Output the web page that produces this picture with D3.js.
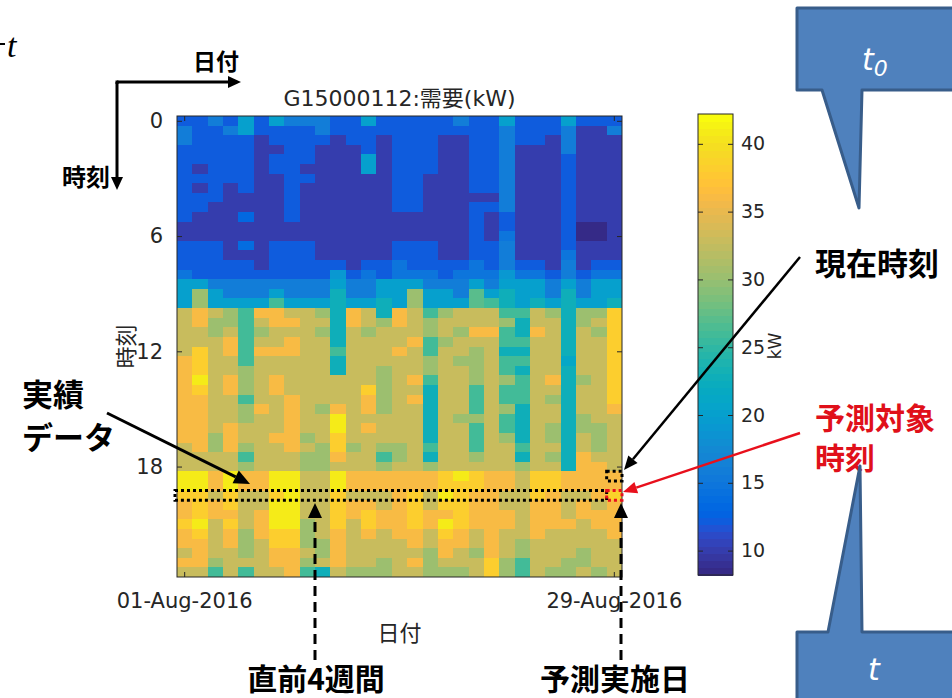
<!DOCTYPE html>
<html>
<head>
<meta charset="utf-8">
<script src="https://cdn.jsdelivr.net/npm/d3@7"></script>
<style>
  body { margin: 0; background: #fff; }
  svg { display: block; }
</style>
</head>
<body>
<svg id="chart" width="952" height="698"></svg>
<script>
// days on x, half-hour slots on y
const days = d3.range(1, 30).map(d => new Date(2016, 7, d));
const slots = d3.range(48).map(i => i / 2);
const hourTicks = [0, 6, 12, 18];
const dateTicks = [days[0], days[28]];
const barTicks = [10, 15, 20, 25, 30, 35, 40];
const colorRange = [8.2, 42.2];
const nowSlot = 18.5;
const targetSlot = 19.5;

// demand (kW) per half-hour slot, one row per slot, 29 days each
const demand = [
  [12,12,16,12,20,12,20,16,16,16,12,12,20,12,12,12,12,12,16,12,12,20,12,12,12,20,12,12,12],
  [16,12,12,16,20,12,12,12,12,16,12,12,12,12,12,12,12,12,12,12,12,16,12,12,12,16,10,10,16],
  [16,12,12,12,12,10,12,12,12,12,10,12,12,10,12,12,12,10,10,12,12,16,12,12,10,16,10,10,10],
  [12,12,12,12,12,10,10,12,12,10,10,10,12,10,12,12,12,10,10,12,12,16,10,10,10,16,10,10,10],
  [12,12,12,12,12,10,12,12,12,10,10,10,20,10,12,12,12,10,10,12,12,16,10,10,10,12,10,10,10],
  [12,10,12,12,12,10,12,12,10,10,10,10,20,10,12,12,12,10,10,12,12,16,10,10,10,12,10,10,10],
  [12,12,12,12,12,10,10,12,12,10,10,10,10,10,12,12,10,10,10,12,12,16,10,10,10,12,10,10,10],
  [12,10,12,10,12,10,10,12,10,10,10,10,10,10,12,12,10,10,10,12,12,16,10,10,10,12,10,10,10],
  [12,12,12,10,10,10,10,12,10,10,10,10,10,10,12,12,10,10,10,10,10,16,10,10,10,12,10,10,10],
  [12,12,10,10,10,10,10,12,10,10,10,10,10,10,12,12,10,10,10,12,12,16,10,10,10,12,10,10,10],
  [12,10,10,10,13,10,10,12,10,10,10,10,10,10,10,10,10,10,10,12,10,12,10,10,10,12,10,10,10],
  [10,10,10,10,10,10,10,10,10,10,10,10,10,10,10,10,10,10,10,12,10,12,10,10,10,12,8,8,10],
  [10,10,10,10,10,10,10,10,10,10,10,10,10,10,10,10,10,10,10,12,10,15,10,10,10,12,8,8,10],
  [12,12,12,10,14,10,12,12,12,10,10,10,10,10,12,12,12,10,10,12,12,16,10,10,10,12,10,10,10],
  [12,12,12,10,10,10,12,12,12,10,10,10,10,10,12,12,12,10,10,12,12,16,10,10,10,15,10,10,10],
  [12,12,12,12,12,10,12,12,12,12,12,10,12,12,15,12,12,12,12,15,12,16,12,12,10,16,10,12,12],
  [15,12,12,12,12,12,12,12,12,12,19,12,15,12,15,15,15,12,15,15,15,19,15,15,12,16,12,15,15],
  [20,20,16,16,16,16,16,16,16,16,20,16,16,20,20,20,16,16,16,20,16,20,20,20,16,20,16,20,20],
  [20,30,20,16,16,16,20,16,16,16,23,16,16,20,20,30,20,20,16,27,20,23,20,20,16,23,16,20,20],
  [20,30,20,20,20,20,26,20,20,20,23,20,20,23,20,30,20,20,20,27,26,23,20,23,20,23,20,20,23],
  [33,36,33,30,26,36,36,33,33,30,23,36,33,23,36,33,26,30,33,33,33,26,26,33,30,23,30,30,38],
  [33,36,30,30,26,33,36,36,33,33,23,36,33,30,36,33,30,33,33,33,33,30,23,33,33,23,30,33,38],
  [33,33,30,33,26,30,33,33,33,30,23,33,30,33,33,33,30,33,30,36,36,26,23,36,33,23,33,30,38],
  [33,33,33,36,26,33,33,36,33,33,23,33,33,33,33,36,26,30,33,33,33,26,26,33,33,23,33,33,38],
  [33,38,33,36,26,36,36,36,33,33,26,33,33,33,36,33,26,33,33,30,33,23,23,33,33,23,33,33,38],
  [36,38,33,33,26,33,33,33,33,33,23,33,33,33,33,33,30,33,30,30,33,26,26,33,33,21,33,33,38],
  [36,38,33,33,30,33,33,33,33,33,23,33,33,30,33,33,30,33,33,30,33,26,23,33,33,23,33,33,38],
  [36,41,33,36,30,33,36,33,33,33,33,33,33,30,33,36,26,33,33,30,33,30,26,33,36,23,30,33,38],
  [36,38,33,36,30,33,36,33,33,33,33,33,38,30,33,33,23,33,33,26,33,26,26,33,33,23,33,33,38],
  [36,36,33,33,26,33,33,36,33,33,33,33,36,30,33,36,23,33,33,26,33,26,26,33,30,23,33,33,38],
  [36,36,33,33,30,36,33,36,33,30,36,33,36,30,33,33,23,33,33,26,33,30,23,33,33,23,33,33,36],
  [36,36,33,33,30,33,33,36,33,33,41,33,33,33,33,33,23,33,30,30,33,26,23,33,33,23,30,33,33],
  [36,36,33,36,33,33,33,36,33,33,41,33,36,33,33,33,23,33,33,26,33,26,23,33,30,23,30,30,33],
  [36,36,30,36,33,33,36,36,30,33,38,33,33,33,33,33,23,33,33,26,33,30,23,33,30,23,33,30,33],
  [33,36,30,36,30,33,33,36,33,30,38,30,33,30,30,33,26,33,33,26,33,33,26,33,33,23,33,30,33],
  [33,33,33,33,26,33,33,33,30,30,36,33,33,26,30,33,23,33,33,30,33,33,23,33,30,23,36,33,33],
  [33,33,33,33,30,33,33,33,30,30,33,33,33,30,33,33,30,33,33,33,33,33,30,33,33,23,36,36,33],
  [41,41,36,41,36,36,41,41,33,33,41,36,36,36,36,36,36,38,41,38,36,36,33,38,38,36,36,36,36],
  [41,41,36,41,36,36,41,41,33,33,41,36,36,36,36,36,36,38,38,38,36,36,33,38,38,36,36,36,36],
  [38,38,33,38,33,33,38,41,33,33,38,33,33,33,36,38,33,41,38,36,36,33,33,38,36,33,33,36,39],
  [36,38,36,38,33,33,41,41,33,33,38,36,36,33,36,38,33,38,38,36,36,33,33,36,36,33,36,33,36],
  [36,38,36,36,33,36,41,41,33,33,38,36,38,36,36,38,36,36,38,36,36,36,33,36,36,33,36,36,36],
  [38,41,33,38,33,36,41,41,30,33,38,33,38,36,36,38,36,41,38,36,36,36,33,36,36,36,33,36,36],
  [36,38,33,36,30,36,38,38,30,33,36,33,36,33,36,36,33,38,36,33,36,33,33,36,33,33,33,33,36],
  [36,36,33,36,30,33,38,38,30,30,36,33,33,33,33,36,33,36,36,33,36,33,30,33,33,33,33,33,33],
  [33,36,33,33,30,33,36,36,33,30,36,33,33,33,33,33,30,36,33,30,36,33,30,33,33,33,30,33,33],
  [36,36,30,33,33,33,36,36,30,33,36,33,33,30,33,36,30,33,33,33,38,30,26,33,33,30,30,33,33],
  [33,33,26,33,26,33,33,36,26,23,33,30,30,30,33,33,30,30,30,33,38,30,26,33,30,30,33,30,33]
];

// MATLAB parula, 64 steps
const parula = ["#352a87","#363093","#3637a0","#353dad","#3243ba","#2c4ac7","#2053d4","#0f5cdd",
  "#0363e1","#0268e1","#046de0","#0871de","#0d75dc","#1079da","#127dd8","#1481d6",
  "#1485d4","#1389d3","#108ed2","#0c93d2","#0998d1","#079ccf","#06a0cd","#06a4ca",
  "#06a7c6","#07a9c2","#0aacbe","#0faeb9","#15b1b4","#1db3af","#25b5a9","#2eb7a4",
  "#38b99e","#42bb98","#4dbc92","#59bd8c","#65be86","#71bf80","#7cbf7b","#87bf77",
  "#92bf73","#9cbf6f","#a5be6b","#aebe67","#b7bd64","#c0bc60","#c8bc5d","#d1bb59",
  "#d9ba56","#e1b952","#e9b94e","#f1b94a","#f8bb44","#fdbe3d","#ffc337","#fec832",
  "#fcce2e","#fad32a","#f7d826","#f5de21","#f5e41d","#f5eb18","#f6f313","#f9fb0e"];

const svg = d3.select("#chart");
svg.append("rect").attr("width", 952).attr("height", 698).attr("fill", "#fff");

const plot = { left: 177, right: 622, top: 116, bottom: 577 };
const axisColor = "#262626";
const tickFont = "'DejaVu Sans', 'Noto Sans CJK JP', sans-serif";
const jpFont = "'Noto Sans CJK JP', sans-serif";

const x = d3.scaleBand().domain(days).range([plot.left, plot.right]);
const y = d3.scaleBand().domain(slots).range([plot.top, plot.bottom]);
const yHour = d3.scaleLinear().domain([-0.25, 23.75]).range([plot.top, plot.bottom]);
const color = d3.scaleQuantize().domain(colorRange).range(parula);

// heatmap cells
const cells = demand.flatMap((row, i) => row.map((v, j) => ({ day: days[j], slot: slots[i], v })));
svg.append("g")
  .attr("shape-rendering", "crispEdges")
  .selectAll("rect")
  .data(cells)
  .join("rect")
  .attr("x", d => x(d.day))
  .attr("y", d => y(d.slot))
  .attr("width", x.bandwidth())
  .attr("height", y.bandwidth())
  .attr("fill", d => color(d.v));

function styleAxis(g, size) {
  g.select(".domain").remove();
  g.selectAll(".tick line").attr("stroke", axisColor);
  g.selectAll(".tick text")
    .attr("fill", axisColor)
    .style("font-family", tickFont)
    .style("font-size", size + "px");
}

// MATLAB-like axes: ticks pointing inward on all four sides
svg.append("g")
  .attr("transform", `translate(${plot.left},0)`)
  .call(d3.axisLeft(yHour).tickValues(hourTicks).tickFormat(d3.format("d")).tickSize(-5).tickPadding(14))
  .call(g => styleAxis(g, 21));
svg.append("g")
  .attr("transform", `translate(${plot.right},0)`)
  .call(d3.axisRight(yHour).tickValues(hourTicks).tickFormat("").tickSize(-5))
  .call(g => styleAxis(g, 21));
svg.append("g")
  .attr("transform", `translate(0,${plot.bottom})`)
  .call(d3.axisBottom(x).tickValues(dateTicks).tickFormat(d3.timeFormat("%d-%b-%Y")).tickSize(-5).tickPadding(16))
  .call(g => styleAxis(g, 21));
svg.append("g")
  .attr("transform", `translate(0,${plot.top})`)
  .call(d3.axisTop(x).tickValues(dateTicks).tickFormat("").tickSize(-5))
  .call(g => styleAxis(g, 21));

svg.append("rect")
  .attr("x", plot.left).attr("y", plot.top)
  .attr("width", plot.right - plot.left).attr("height", plot.bottom - plot.top)
  .attr("fill", "none").attr("stroke", axisColor).attr("stroke-width", 1);

svg.append("text")
  .attr("x", (plot.left + plot.right) / 2).attr("y", 106)
  .attr("text-anchor", "middle").attr("fill", axisColor)
  .style("font-family", tickFont).style("font-size", "22px")
  .text("G15000112:需要(kW)");

svg.append("text")
  .attr("x", (plot.left + plot.right) / 2).attr("y", 641)
  .attr("text-anchor", "middle").attr("fill", axisColor)
  .style("font-family", tickFont).style("font-size", "22px")
  .text("日付");

svg.append("text")
  .attr("transform", `translate(134,${(plot.top + plot.bottom) / 2}) rotate(-90)`)
  .attr("text-anchor", "middle").attr("fill", axisColor)
  .style("font-family", tickFont).style("font-size", "22px")
  .text("時刻");

// colorbar
const bar = { left: 698, right: 733, top: 114, bottom: 575 };
const cbY = d3.scaleLinear().domain(colorRange).range([bar.bottom, bar.top]);
const step = (colorRange[1] - colorRange[0]) / parula.length;
svg.append("g")
  .attr("shape-rendering", "crispEdges")
  .selectAll("rect")
  .data(parula)
  .join("rect")
  .attr("x", bar.left)
  .attr("width", bar.right - bar.left)
  .attr("y", (c, i) => cbY(colorRange[0] + (i + 1) * step))
  .attr("height", (c, i) => cbY(colorRange[0] + i * step) - cbY(colorRange[0] + (i + 1) * step) + 0.5)
  .attr("fill", c => c);

svg.append("g")
  .attr("transform", `translate(${bar.right},0)`)
  .call(d3.axisRight(cbY).tickValues(barTicks).tickSize(-5).tickPadding(8))
  .call(g => styleAxis(g, 19));
svg.append("g")
  .attr("transform", `translate(${bar.left},0)`)
  .call(d3.axisLeft(cbY).tickValues(barTicks).tickFormat("").tickSize(-5))
  .call(g => styleAxis(g, 19));
svg.append("rect")
  .attr("x", bar.left).attr("y", bar.top)
  .attr("width", bar.right - bar.left).attr("height", bar.bottom - bar.top)
  .attr("fill", "none").attr("stroke", axisColor).attr("stroke-width", 1);

svg.append("text")
  .attr("transform", "translate(781,346) rotate(-90)")
  .attr("text-anchor", "middle").attr("fill", axisColor)
  .style("font-family", tickFont).style("font-size", "17px")
  .text("kW");

// ---- annotations ----
function drawArrow(g, from, to, o) {
  const [x1, y1] = from, [x2, y2] = to;
  const a = Math.atan2(y2 - y1, x2 - x1);
  const len = o.head || 14, half = o.half || 6;
  const bx = x2 - len * Math.cos(a), by = y2 - len * Math.sin(a);
  g.append("line")
    .attr("x1", x1).attr("y1", y1).attr("x2", bx).attr("y2", by)
    .attr("stroke", o.color).attr("stroke-width", o.width)
    .attr("stroke-dasharray", o.dash || null);
  const px = -Math.sin(a) * half, py = Math.cos(a) * half;
  g.append("path")
    .attr("d", `M${x2},${y2}L${bx + px},${by + py}L${bx - px},${by - py}Z`)
    .attr("fill", o.color);
}

function label(g, txt, px, py, o) {
  g.append("text")
    .attr("x", px).attr("y", py)
    .attr("text-anchor", o.anchor || "start")
    .attr("fill", o.color || "#000")
    .style("font-family", jpFont)
    .style("font-weight", 700)
    .style("font-size", o.size + "px")
    .text(txt);
}

const ann = svg.append("g");

// highlighted cells: last 4 weeks at the target time, current time, target cell
const bw = x.bandwidth(), bh = y.bandwidth();
function dottedRect(x0, y0, w, h, stroke) {
  ann.append("rect")
    .attr("x", x0).attr("y", y0).attr("width", w).attr("height", h)
    .attr("fill", "none").attr("stroke", stroke)
    .attr("stroke-width", 3).attr("stroke-dasharray", "3,3");
}
dottedRect(x(days[0]) - 2, y(targetSlot), x(days[27]) + bw - x(days[0]) + 2, bh, "#000");
dottedRect(x(days[28]), y(nowSlot), bw, bh, "#000");
dottedRect(x(days[28]), y(targetSlot), bw, bh, "#e8101c");

// axis direction sketch
drawArrow(ann, [117, 82], [241, 82], { color: "#000", width: 3, head: 13, half: 6 });
ann.append("line").attr("x1", 117).attr("y1", 80.5).attr("x2", 117).attr("y2", 84).attr("stroke", "#000").attr("stroke-width", 3);
drawArrow(ann, [117, 82], [117, 190], { color: "#000", width: 3, head: 13, half: 6 });
label(ann, "日付", 193, 70, { size: 23 });
label(ann, "時刻", 110, 186, { size: 24, anchor: "end" });

// stray "t" at the top-left edge
ann.append("line").attr("x1", 0).attr("y1", 44).attr("x2", 5).attr("y2", 44).attr("stroke", "#000").attr("stroke-width", 2);
ann.append("text").attr("x", 7).attr("y", 57)
  .style("font-family", "'Liberation Serif', serif").style("font-style", "italic").style("font-size", "34px")
  .text("t");

// actual data
label(ann, "実績", 22, 406, { size: 31 });
label(ann, "データ", 22, 449, { size: 31 });
drawArrow(ann, [107, 413], [250, 484], { color: "#000", width: 3, head: 16, half: 7 });

// previous 4 weeks / forecast day
drawArrow(ann, [315, 660], [315, 503], { color: "#000", width: 3, head: 15, half: 7, dash: "10,6" });
drawArrow(ann, [621, 660], [621, 503], { color: "#000", width: 3, head: 15, half: 7, dash: "10,6" });
label(ann, "直前4週間", 316, 690, { size: 30, anchor: "middle" });
label(ann, "予測実施日", 615, 690, { size: 30, anchor: "middle" });

// current time / target time
label(ann, "現在時刻", 815, 275, { size: 31 });
drawArrow(ann, [800, 257], [624, 470], { color: "#000", width: 2.5, head: 14, half: 6 });
label(ann, "予測対象", 815, 429, { size: 30, color: "#e0101a" });
label(ann, "時刻", 815, 469, { size: 30, color: "#e0101a" });
drawArrow(ann, [800, 433], [623, 492], { color: "#e8101c", width: 2.5, head: 14, half: 6 });

// callouts on the right
const callFill = "#4f81bd", callStroke = "#385d8a";
ann.append("path")
  .attr("d", "M797,8H960V90H862L859,208L822,90H797Z")
  .attr("fill", callFill).attr("stroke", callStroke).attr("stroke-width", 3).attr("stroke-linejoin", "round");
ann.append("path")
  .attr("d", "M797,632H828L860,466L862,632H960V710H797Z")
  .attr("fill", callFill).attr("stroke", callStroke).attr("stroke-width", 3).attr("stroke-linejoin", "round");

const t0 = ann.append("text").attr("x", 862).attr("y", 70).attr("fill", "#fff")
  .style("font-family", "'DejaVu Sans', sans-serif").style("font-style", "italic").style("font-size", "30px");
t0.append("tspan").text("t");
t0.append("tspan").attr("dy", 6).style("font-size", "22px").text("0");
ann.append("text").attr("x", 868).attr("y", 680).attr("fill", "#fff")
  .style("font-family", "'DejaVu Sans', sans-serif").style("font-style", "italic").style("font-size", "30px")
  .text("t");
</script>
</body>
</html>
